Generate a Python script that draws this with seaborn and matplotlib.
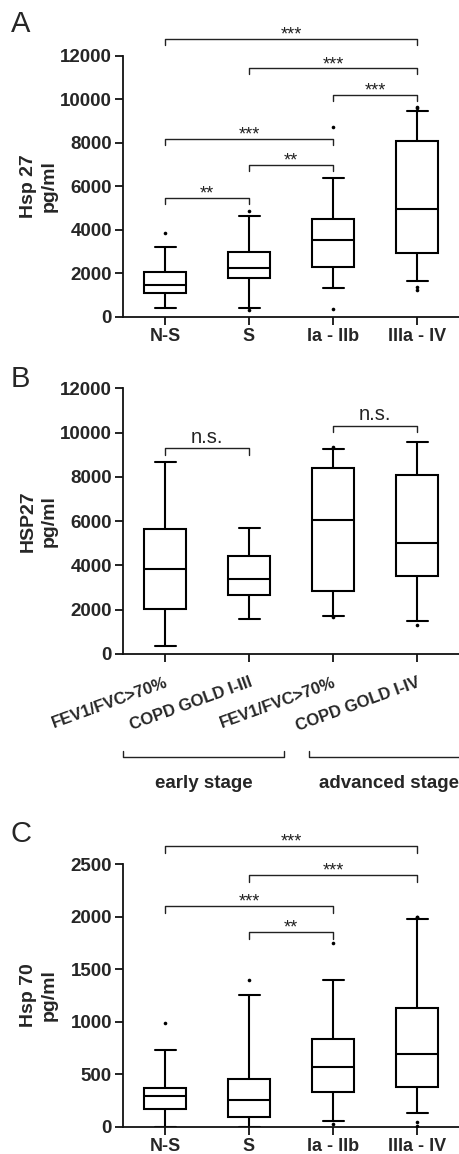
import matplotlib
matplotlib.use("Agg")
import matplotlib.pyplot as plt
import matplotlib.transforms as mtransforms
import pandas as pd
import seaborn as sns

# ---------------- data ----------------
# panel A: Hsp 27
A_groups = ["N-S", "S", "Ia - IIb", "IIIa - IV"]
A_low = [380, 400, 1340, 1660]
A_q1 = [1105, 1765, 2300, 2915]
A_med = [1460, 2240, 3530, 4940]
A_q3 = [2040, 2975, 4510, 8070]
A_high = [3220, 4650, 6370, 9470]
A_out_group = ["N-S", "S", "S", "Ia - IIb", "Ia - IIb",
               "IIIa - IV", "IIIa - IV", "IIIa - IV", "IIIa - IV"]
A_out_value = [3870, 4880, 310, 8720, 350, 9640, 9600, 1350, 1230]
A_pairs = [(0, 3), (1, 3), (2, 3), (0, 2), (1, 2), (0, 1)]
A_heights = [12780, 11430, 10200, 8180, 6980, 5480]
A_labels = ["***", "***", "***", "***", "**", "**"]

# panel B: HSP27 by lung function
B_groups = ["early_ctrl", "early_copd", "adv_ctrl", "adv_copd"]
B_ticklabels = ["FEV1/FVC>70%", "COPD GOLD I-III", "FEV1/FVC>70%", "COPD GOLD I-IV"]
B_low = [380, 1570, 1720, 1510]
B_q1 = [2020, 2665, 2830, 3520]
B_med = [3855, 3390, 6070, 5000]
B_q3 = [5660, 4410, 8415, 8100]
B_high = [8690, 5680, 9260, 9580]
B_out_group = ["adv_ctrl", "adv_ctrl", "adv_copd"]
B_out_value = [9330, 1660, 1310]
B_pairs = [(0, 1), (2, 3)]
B_heights = [9290, 10300]
B_labels = ["n.s.", "n.s."]
B_stages = ["early stage", "advanced stage"]

# panel C: Hsp 70
C_groups = ["N-S", "S", "Ia - IIb", "IIIa - IV"]
C_low = [0, 0, 55, 130]
C_q1 = [171, 89, 330, 378]
C_med = [292, 251, 571, 688]
C_q3 = [365, 457, 838, 1133]
C_high = [727, 1256, 1399, 1973]
C_out_group = ["N-S", "S", "Ia - IIb", "Ia - IIb",
               "IIIa - IV", "IIIa - IV", "IIIa - IV", "IIIa - IV"]
C_out_value = [984, 1396, 1751, 30, 1992, 1992, 48, 8]
C_pairs = [(0, 3), (1, 3), (0, 2), (1, 2)]
C_heights = [2674, 2398, 2100, 1853]
C_labels = ["***", "***", "***", "**"]

# ---------------- style ----------------
sns.set_theme(style="ticks")
plt.rcParams["font.family"] = ["Liberation Sans", "DejaVu Sans"]
plt.rcParams["axes.linewidth"] = 1.3
plt.rcParams["axes.edgecolor"] = "#111111"

TICK_FS = 13.5
CAT_FS = 13
LABEL_FS = 14
LINE = "#222222"


def summary_frame(keys, low, q1, med, q3, high):
    # five numbers per group -> percentiles 0/25/50/75/100 hit them exactly
    rows = []
    for k, a, b, c, d, e in zip(keys, low, q1, med, q3, high):
        for v in (a, b, c, d, e):
            rows.append({"group": k, "value": v})
    return pd.DataFrame(rows)


def draw_panel(ax, keys, low, q1, med, q3, high, out_group, out_value):
    df = summary_frame(keys, low, q1, med, q3, high)
    sns.boxplot(data=df, x="group", y="value", order=keys, whis=(0, 100),
                width=0.5, color="white", linecolor="black", linewidth=1.5,
                fliersize=0, ax=ax)
    out = pd.DataFrame({"group": out_group, "value": out_value})
    sns.stripplot(data=out, x="group", y="value", order=keys, jitter=False,
                  color="black", size=2.6, ax=ax)
    sns.despine(ax=ax)
    ax.tick_params(axis="both", length=6, width=1.3, color="#111111",
                   labelsize=TICK_FS, pad=2)
    for lab in ax.get_yticklabels():
        lab.set_fontweight("bold")
    ax.set_xlabel("")


def add_brackets(ax, pairs, heights, labels, drop, fs, offset):
    for (i, j), h, lab in zip(pairs, heights, labels):
        ax.plot([i, i, j, j], [h - drop, h, h, h - drop], color=LINE, lw=1.0,
                clip_on=False)
        ax.annotate(lab, xy=((i + j) / 2, h), xytext=(0, offset),
                    textcoords="offset points", ha="center", va="baseline",
                    fontsize=fs, color="#222222", annotation_clip=False)


fig = plt.figure(figsize=(4.59, 11.54), dpi=100)
axA = fig.add_axes([0.268, 0.7256, 0.732, 0.2259])
axB = fig.add_axes([0.268, 0.4333, 0.732, 0.2302])
axC = fig.add_axes([0.268, 0.02366, 0.732, 0.2276])

# ---- A ----
draw_panel(axA, A_groups, A_low, A_q1, A_med, A_q3, A_high, A_out_group, A_out_value)
add_brackets(axA, A_pairs, A_heights, A_labels, drop=280, fs=13, offset=-0.5)
axA.set_xticks(range(len(A_groups)))
axA.set_xticklabels(A_groups, fontweight="bold", fontsize=CAT_FS)
axA.set_yticks(range(0, 12001, 2000))
axA.set_ylim(0, 12000)
axA.set_xlim(-0.5, 3.5)
axA.set_ylabel("Hsp 27\npg/ml", fontsize=LABEL_FS, fontweight="bold", linespacing=1.25)
axA.yaxis.set_label_coords(-0.195, 0.5)

# ---- B ----
draw_panel(axB, B_groups, B_low, B_q1, B_med, B_q3, B_high, B_out_group, B_out_value)
add_brackets(axB, B_pairs, B_heights, B_labels, drop=280, fs=14.5, offset=4)
axB.set_xticks(range(len(B_groups)))
axB.set_xticklabels(B_ticklabels, rotation=20, ha="right", rotation_mode="anchor",
                    fontweight="bold", fontsize=12)
axB.tick_params(axis="x", pad=9)
axB.set_yticks(range(0, 12001, 2000))
axB.set_ylim(0, 12000)
axB.set_xlim(-0.5, 3.5)
axB.set_ylabel("HSP27\npg/ml", fontsize=LABEL_FS, fontweight="bold", linespacing=1.25)
axB.yaxis.set_label_coords(-0.195, 0.5)

# stage brackets under panel B
trans = mtransforms.blended_transform_factory(axB.transData, axB.transAxes)
stage_spans = [(-0.5, 1.42), (1.71, 3.63)]
for (x0, x1), lab in zip(stage_spans, B_stages):
    axB.plot([x0, x0, x1, x1], [-0.365, -0.388, -0.388, -0.365], transform=trans,
             color=LINE, lw=1.0, clip_on=False)
    axB.text((x0 + x1) / 2, -0.486, lab, transform=trans, ha="center", va="center",
             fontsize=13.5, fontweight="bold")

# ---- C ----
draw_panel(axC, C_groups, C_low, C_q1, C_med, C_q3, C_high, C_out_group, C_out_value)
add_brackets(axC, C_pairs, C_heights, C_labels, drop=65, fs=13, offset=-0.5)
axC.set_xticks(range(len(C_groups)))
axC.set_xticklabels(C_groups, fontweight="bold", fontsize=CAT_FS)
axC.set_yticks(range(0, 2501, 500))
axC.set_ylim(0, 2500)
axC.set_xlim(-0.5, 3.5)
axC.set_ylabel("Hsp 70\npg/ml", fontsize=LABEL_FS, fontweight="bold", linespacing=1.25)
axC.yaxis.set_label_coords(-0.195, 0.5)

# panel letters
for letter, ybase in zip(["A", "B", "C"], [32, 387, 842]):
    fig.text(11 / 459, 1 - ybase / 1154, letter, fontsize=21, va="baseline", ha="left")

fig.savefig("out.png", dpi=100)
